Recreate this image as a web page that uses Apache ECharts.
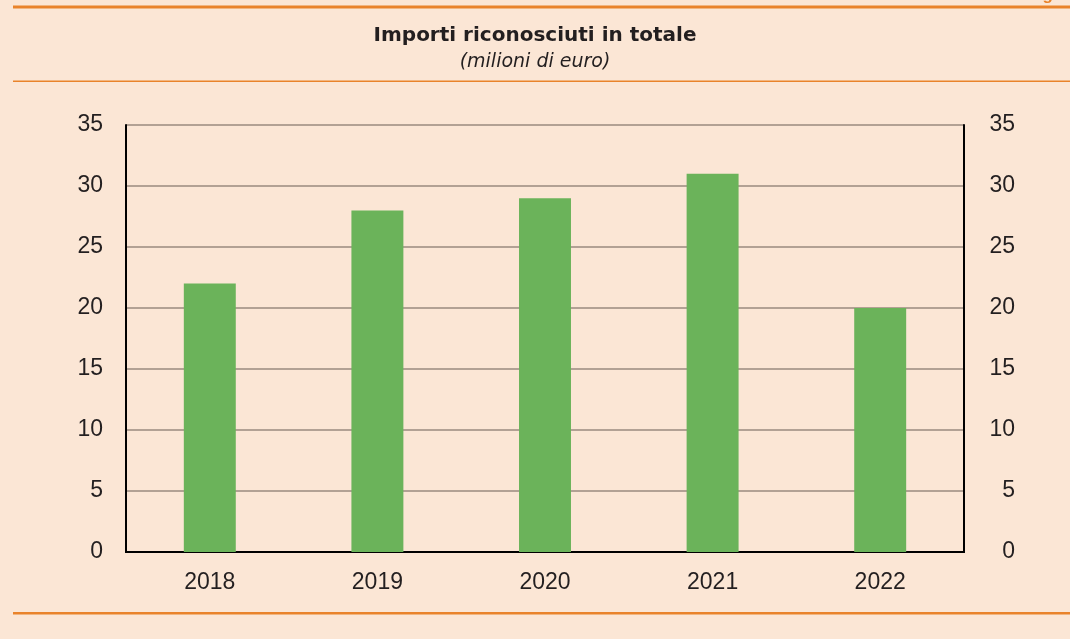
<!DOCTYPE html>
<html><head><meta charset="utf-8">
<script src="https://cdn.jsdelivr.net/npm/echarts@6/dist/echarts.min.js"></script>
<style>html,body{margin:0;padding:0;background:#FBE6D5;}#c{width:1070px;height:639px;}</style>
</head><body><div id="c"></div>
<script>
const categories = ['2018','2019','2020','2021','2022'];
const values = [22, 28, 29, 31, 20];
const yTicks = {min: 0, max: 35, interval: 5};
const titleText = 'Importi riconosciuti in totale';
const subtitleText = '(milioni di euro)';

const chart = echarts.init(document.getElementById('c'), null, {renderer: 'canvas'});
const orange = '#E9832B';
const labelStyle = {color: '#231F20', fontSize: 23, fontFamily: 'Liberation Sans, Arial, sans-serif'};
chart.setOption({
  backgroundColor: '#FBE6D5',
  animation: false,
  title: [
    {text: titleText, left: 'center', top: 21, textStyle: {fontSize: 20, fontWeight: 'bold', color: '#231F20', fontFamily: 'DejaVu Sans, sans-serif'}},
    {text: subtitleText, left: 'center', top: 48, textStyle: {fontSize: 19, fontStyle: 'italic', fontWeight: 'normal', color: '#231F20', fontFamily: 'DejaVu Sans, sans-serif'}}
  ],
  graphic: [
    {type: 'rect', shape: {x: 13, y: 5.5, width: 1070, height: 3}, style: {fill: orange}},
    {type: 'rect', shape: {x: 13, y: 80.5, width: 1070, height: 1.5}, style: {fill: orange}},
    {type: 'rect', shape: {x: 13, y: 612, width: 1070, height: 2.5}, style: {fill: orange}},
    {type: 'text', x: 1032, y: -13, style: {text: 'fig.', fill: orange, fontSize: 17, fontWeight: 'bold', fontFamily: 'Liberation Sans, Arial, sans-serif'}}
  ],
  grid: {left: 126, right: 106, top: 125, bottom: 87, show: false},
  xAxis: [
    {type: 'category', data: categories, position: 'bottom',
     axisLine: {show: true, lineStyle: {color: '#000', width: 2}},
     axisTick: {show: false},
     axisLabel: Object.assign({margin: 19}, labelStyle),
     splitLine: {show: false}},
    {type: 'category', data: categories, position: 'top',
     axisLine: {show: true, lineStyle: {color: '#000', width: 2}},
     axisTick: {show: false}, axisLabel: {show: false}, splitLine: {show: false}}
  ],
  yAxis: [
    {type: 'value', min: yTicks.min, max: yTicks.max, interval: yTicks.interval, position: 'left',
     axisLine: {show: true, lineStyle: {color: '#000', width: 2}},
     axisTick: {show: false},
     axisLabel: Object.assign({margin: 23}, labelStyle),
     splitLine: {show: true, lineStyle: {color: '#9A8A7E', width: 1.5}}},
    {type: 'value', min: yTicks.min, max: yTicks.max, interval: yTicks.interval, position: 'right',
     axisLine: {show: true, lineStyle: {color: '#000', width: 2}},
     axisTick: {show: false},
     axisLabel: Object.assign({margin: 51, align: 'right'}, labelStyle),
     splitLine: {show: false}}
  ],
  series: [{
    type: 'bar', data: values, barWidth: '31%', xAxisIndex: 0, yAxisIndex: 0,
    itemStyle: {color: '#6BB35A'}, z: 1
  }]
});
</script></body></html>
